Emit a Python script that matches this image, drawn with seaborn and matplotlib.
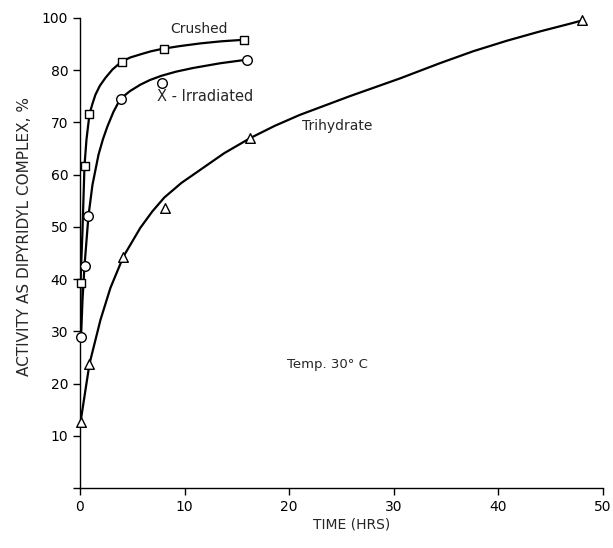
import matplotlib
matplotlib.use("Agg")
import matplotlib.pyplot as plt
import seaborn as sns

# measured points (time in hrs, activity on the axis scale)
crushed_t = [0.05, 0.45, 0.9, 4.0, 8.0, 15.7]
crushed_y = [39.3, 61.7, 71.6, 81.6, 84.1, 85.8]
xirr_t = [0.1, 0.45, 0.8, 3.9, 7.8, 16.0]
xirr_y = [28.9, 42.5, 52.1, 74.5, 77.5, 82.0]
trihyd_t = [0.05, 0.9, 4.1, 8.1, 16.3, 48.0]
trihyd_y = [12.6, 23.8, 44.3, 53.6, 67.0, 89.5]

# hand-drawn smooth curves
crushed_curve_t = [0.05, 0.05, 0.24, 0.43, 0.62, 0.91, 1.2, 1.48, 1.9, 2.43, 3.1, 3.96, 4.8, 5.77, 6.8, 7.97, 9.6, 11.5, 13.5, 15.7]
crushed_curve_y = [30.3, 39.3, 49.4, 61.7, 66.7, 71.6, 73.6, 75.3, 77.0, 78.5, 80.1, 81.6, 82.4, 83.0, 83.6, 84.1, 84.6, 85.1, 85.5, 85.8]
xirr_curve_t = [0.1, 0.24, 0.43, 0.81, 1.19, 1.77, 2.2, 2.62, 3.2, 3.86, 4.8, 5.77, 6.7, 7.78, 9.2, 10.83, 13.4, 16.0]
xirr_curve_y = [28.9, 36.0, 42.5, 52.1, 58.0, 63.8, 66.8, 69.2, 72.0, 74.5, 76.0, 77.2, 78.1, 78.9, 79.7, 80.4, 81.3, 82.0]
trihyd_curve_t = [0.05, 0.91, 1.96, 2.91, 4.15, 5.77, 6.9, 8.06, 9.7, 11.5, 13.8, 16.3, 18.6, 21.0, 25.8, 30.6, 34.4, 37.6, 40.8, 44.0, 47.1, 48.0]
trihyd_curve_y = [12.6, 23.8, 32.2, 38.3, 44.3, 49.8, 52.9, 55.6, 58.4, 60.9, 64.1, 67.0, 69.3, 71.4, 75.0, 78.4, 81.3, 83.6, 85.6, 87.4, 89.0, 89.5]

ytick_pos = [0, 10, 20, 30, 40, 50, 60, 70, 80, 90]
ytick_labels = ["", "10", "20", "30", "40", "50", "60", "70", "80", "100"]
xtick_pos = [0, 10, 20, 30, 40, 50]

sns.set_style("ticks")
plt.rcParams["font.family"] = ["DejaVu Sans"]

fig = plt.figure(figsize=(6.13, 5.48), dpi=100)
ax = fig.add_axes([0.1305, 0.1095, 0.853, 0.858])

for t, y in [(crushed_curve_t, crushed_curve_y), (xirr_curve_t, xirr_curve_y), (trihyd_curve_t, trihyd_curve_y)]:
    sns.lineplot(x=t, y=y, ax=ax, color="black", linewidth=1.6, sort=False, estimator=None)

sns.scatterplot(x=crushed_t, y=crushed_y, ax=ax, marker="s", s=38, facecolor="white",
                edgecolor="black", linewidth=1.0, zorder=3, clip_on=False)
sns.scatterplot(x=xirr_t, y=xirr_y, ax=ax, marker="o", s=48, facecolor="white",
                edgecolor="black", linewidth=1.0, zorder=3, clip_on=False)
sns.scatterplot(x=trihyd_t, y=trihyd_y, ax=ax, marker="^", s=48, facecolor="white",
                edgecolor="black", linewidth=1.0, zorder=3, clip_on=False)

ax.set_xlim(0, 50)
ax.set_ylim(0, 90)
ax.set_xticks(xtick_pos)
ax.set_yticks(ytick_pos)
ax.set_yticklabels(ytick_labels)
ax.tick_params(labelsize=10, length=5, width=1, colors="black")
sns.despine(ax=ax)
for sp in ["left", "bottom"]:
    ax.spines[sp].set_linewidth(1.0)
    ax.spines[sp].set_color("black")

ax.set_xlabel("TIME (HRS)", fontsize=10)
ax.xaxis.set_label_coords(0.52, -0.062)
ax.set_ylabel("ACTIVITY AS DIPYRIDYL COMPLEX, %", fontsize=11)
ax.yaxis.set_label_coords(-0.091, 0.534)

ax.text(8.6, 87.1, "Crushed", fontsize=10)
ax.text(7.4, 74.1, "X - Irradiated", fontsize=10.5)
ax.text(21.2, 68.6, "Trihydrate", fontsize=10)
ax.text(19.8, 23.0, "Temp. 30\u00b0 C", fontsize=9.5)

fig.savefig("out.png", dpi=100)
